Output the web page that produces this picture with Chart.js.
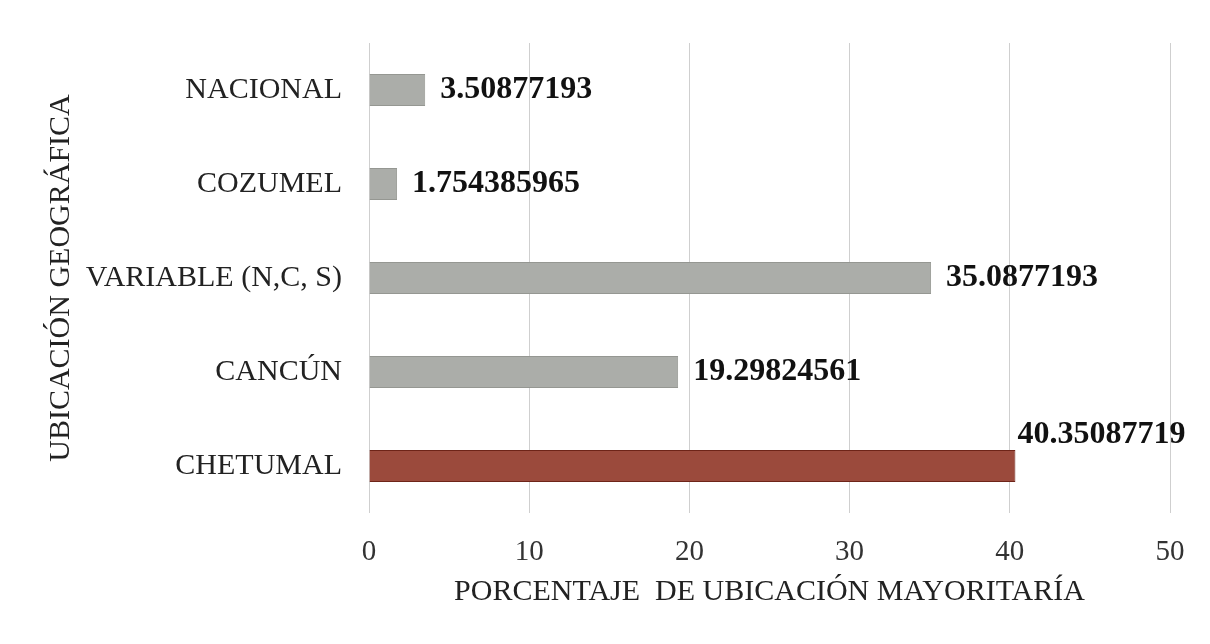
<!DOCTYPE html>
<html>
<head>
<meta charset="utf-8">
<script src="https://cdn.jsdelivr.net/npm/chart.js@4/dist/chart.umd.min.js"></script>
<style>
  body { margin: 0; background: #fff; }
</style>
</head>
<body>
<canvas id="myChart1" width="1210" height="644"></canvas>
<script>
const categories = ["NACIONAL", "COZUMEL", "VARIABLE (N,C, S)", "CANCÚN", "CHETUMAL"];
const percentages = [3.50877193, 1.754385965, 35.0877193, 19.29824561, 40.35087719];
const valueLabels = ["3.50877193", "1.754385965", "35.0877193", "19.29824561", "40.35087719"];
const xTicks = [0, 10, 20, 30, 40, 50];

const barColors = ["#abada9", "#abada9", "#abada9", "#abada9", "#9b4a3c"];
const barBorders = ["#959792", "#959792", "#959792", "#959792", "#6e2418"];

const serif = "'Liberation Serif', 'Times New Roman', serif";

// value labels at the end of each bar, moved above the bar if they would run off the plot
const endLabels = {
  id: "endLabels",
  afterDatasetsDraw(chart) {
    const ctx = chart.ctx;
    const meta = chart.getDatasetMeta(0);
    const area = chart.chartArea;
    ctx.save();
    ctx.font = "bold 32px " + serif;
    ctx.fillStyle = "#111";
    ctx.textBaseline = "middle";
    ctx.textAlign = "left";
    meta.data.forEach(function (bar, i) {
      const text = valueLabels[i];
      const w = ctx.measureText(text).width;
      let x = bar.x + 15;
      let y = bar.y;
      if (x + w > area.right) {
        x = bar.x + 2;
        y = bar.y - bar.height / 2 - 15;
      }
      ctx.fillText(text, x, y);
    });
    ctx.restore();
  }
};

new Chart("myChart1", {
  type: "bar",
  data: {
    labels: categories,
    datasets: [{
      data: percentages,
      backgroundColor: barColors,
      borderColor: barBorders,
      borderWidth: 1,
      barPercentage: 0.68,
      categoryPercentage: 0.5
    }]
  },
  options: {
    indexAxis: "y",
    responsive: false,
    animation: false,
    layout: { padding: { left: 42, right: 40, top: 43, bottom: 20 } },
    plugins: {
      legend: { display: false },
      tooltip: { enabled: false }
    },
    scales: {
      x: {
        min: 0,
        max: 50,
        afterBuildTicks: function (scale) {
          scale.ticks = xTicks.map(function (v) { return { value: v }; });
        },
        afterFit: function (scale) { scale.height = 111; },
        grid: { color: "#cfcfcf", lineWidth: 1, drawTicks: false },
        border: { display: false },
        ticks: { padding: 22, color: "#333", font: { family: serif, size: 29 } },
        title: {
          display: true,
          text: "PORCENTAJE  DE UBICACIÓN MAYORITARÍA",
          color: "#222",
          font: { family: serif, size: 30 },
          padding: { top: 0, bottom: 14 }
        }
      },
      y: {
        afterFit: function (scale) { scale.width = 327; },
        grid: { display: false },
        border: { display: false },
        ticks: { padding: 19, color: "#222", font: { family: serif, size: 30 } },
        title: {
          display: true,
          text: "UBICACIÓN GEOGRÁFICA",
          color: "#222",
          font: { family: serif, size: 30 },
          padding: { top: 1, bottom: 0 }
        }
      }
    }
  },
  plugins: [endLabels]
});
</script>
</body>
</html>
